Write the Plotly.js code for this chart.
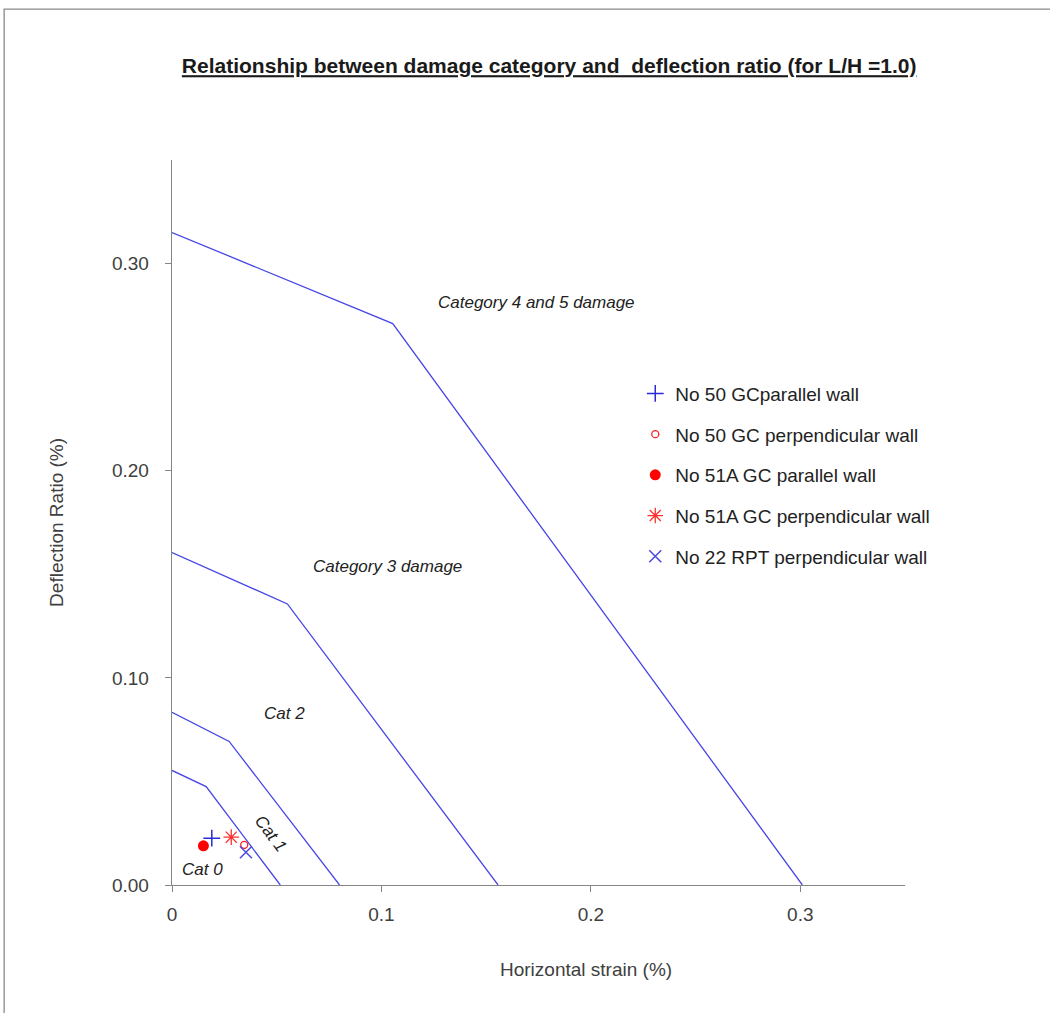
<!DOCTYPE html>
<html>
<head>
<meta charset="utf-8">
<script src="https://cdn.plot.ly/plotly-3.0.1.min.js"></script>
<style>html,body{margin:0;padding:0;background:#fff;}#chart{width:1050px;height:1013px;}</style>
</head>
<body>
<div id="chart"></div>
<script>
// Damage category boundary lines (horizontal strain %, deflection ratio %)
const cat1X = [0, 0.0163, 0.0517];
const cat1Y = [0.0553, 0.0475, 0];
const cat2X = [0, 0.0273, 0.080];
const cat2Y = [0.0834, 0.0693, 0];
const cat3X = [0, 0.0551, 0.1557];
const cat3Y = [0.1605, 0.1357, 0];
const cat45X = [0, 0.1054, 0.301];
const cat45Y = [0.315, 0.271, 0];

// Observed points
const seriesNames = [
  'No 50 GCparallel wall',
  'No 50 GC perpendicular wall',
  'No 51A GC parallel wall',
  'No 51A GC perpendicular wall',
  'No 22 RPT perpendicular wall'
];
const seriesX = [[0.019], [0.0345], [0.015], [0.0283], [0.0353]];
const seriesY = [[0.0226], [0.0194], [0.0189], [0.0231], [0.0158]];

// Region labels
const labelText = ['Category 4 and 5 damage', 'Category 3 damage', 'Cat 2', 'Cat 1', 'Cat 0'];
const labelX = [0.174, 0.103, 0.0537, 0.047, 0.0144];
const labelY = [0.281, 0.1537, 0.083, 0.0247, 0.0073];
const labelAngle = [0, 0, 0, 53, 0];

const xTicks = [0, 0.1, 0.2, 0.3];
const xTickText = ['0', '0.1', '0.2', '0.3'];
const yTicks = [0, 0.1, 0.2, 0.3];
const yTickText = ['0.00', '0.10', '0.20', '0.30'];

const xTitle = 'Horizontal strain (%)';
const yTitle = 'Deflection Ratio (%)';
const chartTitle = 'Relationship between damage category and  deflection ratio (for L/H =1.0)';

const lineColor = '#4646e6';
const FONT = 'Liberation Sans, Arial, sans-serif';

const traces = [];
[[cat1X, cat1Y], [cat2X, cat2Y], [cat3X, cat3Y], [cat45X, cat45Y]].forEach(function (p) {
  traces.push({x: p[0], y: p[1], mode: 'lines', type: 'scatter', showlegend: false,
    line: {color: lineColor, width: 1.3}, hoverinfo: 'skip'});
});

const markerStyles = [
  {symbol: 'cross-thin-open', size: 12, color: '#2a2ad8', line: {color: '#2a2ad8', width: 1.5}},
  {symbol: 'circle-open', size: 7, color: '#ff2020', line: {color: '#ff2020', width: 1.3}},
  {symbol: 'circle', size: 11, color: '#ff0000', line: {width: 0}},
  {symbol: 'asterisk-open', size: 13, color: '#ff3030', line: {color: '#ff3030', width: 1.3}},
  {symbol: 'x-thin-open', size: 12, color: '#4a4ae0', line: {color: '#4a4ae0', width: 1.5}}
];
seriesNames.forEach(function (n, i) {
  traces.push({x: seriesX[i], y: seriesY[i], name: n, mode: 'markers', type: 'scatter',
    legendgroup: 'g' + i, marker: markerStyles[i]});
});

const annotations = labelText.map(function (t, i) {
  return {x: labelX[i], y: labelY[i], xref: 'x', yref: 'y', text: '<i>' + t + '</i>',
    showarrow: false, textangle: labelAngle[i], font: {family: FONT, size: 17, color: '#222'}};
});
annotations.push({x: 0.565, y: -0.116, xref: 'paper', yref: 'paper', text: xTitle, showarrow: false,
  xanchor: 'center', yanchor: 'middle', font: {family: FONT, size: 19, color: '#404040'}});
annotations.push({x: -0.157, y: 0.5007, xref: 'paper', yref: 'paper', text: yTitle, showarrow: false,
  textangle: -90, xanchor: 'center', yanchor: 'middle', font: {family: FONT, size: 19, color: '#404040'}});

const layout = {
  width: 1050, height: 1013,
  paper_bgcolor: '#ffffff', plot_bgcolor: '#ffffff',
  margin: {l: 172, r: 145, t: 160, b: 128},
  title: {text: '<b><u>' + chartTitle + '</u></b>',
    x: 0.523, xanchor: 'center', y: 0.935, yanchor: 'middle',
    font: {family: FONT, size: 21, color: '#1a1a1a'}},
  xaxis: {range: [0, 0.35], tickvals: xTicks, ticktext: xTickText, showgrid: false, zeroline: false,
    showline: true, linecolor: '#868686', linewidth: 1.3, ticks: 'outside', ticklen: 6, tickcolor: '#868686',
    ticklabelstandoff: 6,
    tickfont: {family: FONT, size: 19, color: '#404040'}},
  yaxis: {range: [0, 0.35], tickvals: yTicks, ticktext: yTickText, showgrid: false, zeroline: false,
    showline: true, linecolor: '#868686', linewidth: 1.3, ticks: 'outside', ticklen: 6, tickcolor: '#868686',
    ticklabelstandoff: 12,
    tickfont: {family: FONT, size: 19, color: '#404040'}},
  legend: {x: 0.632, y: 0.704, xanchor: 'left', yanchor: 'top', traceorder: 'grouped', tracegroupgap: 13,
    itemwidth: 30,
    font: {family: FONT, size: 19, color: '#222'}, bgcolor: 'rgba(0,0,0,0)'},
  annotations: annotations,
  shapes: [{type: 'rect', xref: 'paper', yref: 'paper', x0: -0.229, x1: 1.3, y0: -0.3, y1: 1.208,
    line: {color: '#8a8a8a', width: 1.3}, fillcolor: 'rgba(0,0,0,0)', layer: 'below'}],
  showlegend: true
};

Plotly.newPlot('chart', traces, layout, {displayModeBar: false, staticPlot: true});
</script>
</body>
</html>
